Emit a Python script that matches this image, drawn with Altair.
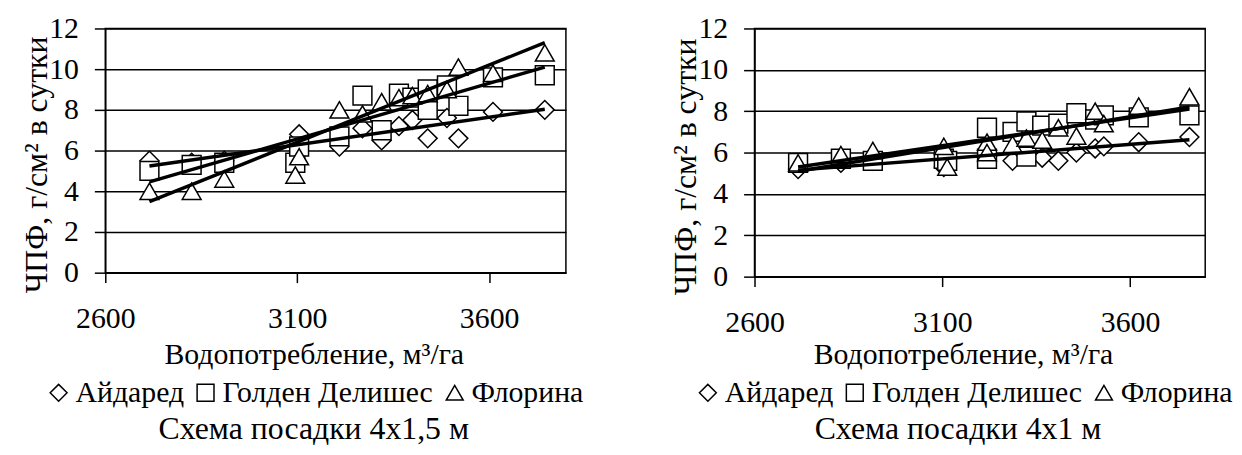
import altair as alt
import pandas as pd

FONT = "Liberation Serif"
VARIETIES = ["Айдаред", "Голден Делишес", "Флорина"]
SHAPES = ["diamond", "square", "triangle-up"]

# ---- Panel 1: Схема посадки 4х1,5 м ----
L_AID_X = [2715, 2825, 2910, 3105, 3210, 3270, 3320, 3365, 3400, 3440, 3490, 3520, 3610, 3745]
L_AID_Y = [5.5, 5.4, 5.5, 6.8, 6.2, 7.1, 6.5, 7.2, 7.5, 6.6, 7.6, 6.6, 7.9, 8.0]
L_GOL_X = [2715, 2825, 2910, 3095, 3105, 3210, 3270, 3320, 3365, 3400, 3440, 3440, 3490, 3520, 3610, 3745]
L_GOL_Y = [5.0, 5.3, 5.4, 5.4, 6.2, 6.7, 8.7, 7.0, 8.8, 8.6, 9.0, 8.0, 9.2, 8.2, 9.6, 9.7]
L_FLO_X = [2715, 2825, 2910, 3095, 3105, 3210, 3270, 3320, 3365, 3400, 3440, 3490, 3520, 3610, 3745]
L_FLO_Y = [4.0, 4.0, 4.6, 4.8, 5.7, 8.0, 7.8, 8.4, 8.6, 8.7, 8.8, 9.0, 10.1, 9.8, 10.8]
L_TREND_X = [2715, 3745]
L_TREND_AID = [5.24, 8.03]
L_TREND_GOL = [4.46, 10.1]
L_TREND_FLO = [3.49, 11.3]

# ---- Panel 2: Схема посадки 4х1 м ----
R_AID_X = [2716, 2830, 2915, 3104, 3219, 3287, 3366, 3409, 3457, 3507, 3530, 3623, 3758]
R_AID_Y = [5.2, 5.5, 5.6, 5.3, 5.8, 5.6, 5.75, 5.6, 6.0, 6.2, 6.3, 6.5, 6.75]
R_GOL_X = [2716, 2830, 2915, 3104, 3113, 3219, 3219, 3287, 3324, 3324, 3366, 3409, 3457, 3507, 3530, 3623, 3758]
R_GOL_Y = [5.5, 5.7, 5.6, 5.7, 5.6, 7.2, 5.7, 7.0, 7.5, 5.8, 7.3, 7.4, 7.9, 7.6, 7.8, 7.7, 7.8]
R_FLO_X = [2716, 2830, 2915, 3104, 3113, 3219, 3219, 3287, 3324, 3366, 3409, 3457, 3507, 3530, 3623, 3758]
R_FLO_Y = [5.5, 5.9, 6.1, 6.3, 5.3, 6.5, 6.0, 6.4, 6.7, 6.6, 7.2, 6.8, 8.0, 7.4, 8.25, 8.7]
R_TREND_X = [2716, 3758]
R_TREND_AID = [5.15, 6.62]
R_TREND_GOL = [5.3, 8.1]
R_TREND_FLO = [5.1, 8.2]

X_TICKS = [2600, 3100, 3600]
Y_TICKS = [0, 2, 4, 6, 8, 10, 12]
X_TITLE = "Водопотребление, м³/га"
Y_TITLE = "ЧПФ, г/см² в сутки"


def points_df(series):
    rows = []
    for name, xs, ys in series:
        for x, y in zip(xs, ys):
            rows.append({"x": x, "y": y, "sort": name})
    return pd.DataFrame(rows)


def trend_df(tx, series):
    rows = []
    for name, ys in series:
        for x, y in zip(tx, ys):
            rows.append({"x": x, "y": y, "sort": name})
    return pd.DataFrame(rows)


def panel(pts, trd, width, height, title, xtitle_y, title_offset):
    xenc = alt.X(
        "x:Q",
        scale=alt.Scale(domain=[2600, 3800], nice=False, zero=False),
        axis=alt.Axis(
            values=X_TICKS, format="d", title=X_TITLE, grid=False, tickSize=10,
            labelPadding=36, labelBaseline="middle", labelFlush=False,
            titleX=210, titleY=xtitle_y, titleBaseline="middle", titleColor="black",
        ),
    )
    yenc = alt.Y(
        "y:Q",
        scale=alt.Scale(domain=[0, 12], nice=False, zero=False),
        axis=alt.Axis(
            values=Y_TICKS, format="d", title=Y_TITLE, grid=True, tickSize=11,
            labelPadding=16, labelFlush=False, titleX=-69, titleY=height / 2 + 14,
            titleBaseline="middle", titleFontSize=32, titleColor="black",
        ),
    )
    shape = alt.Shape(
        "sort:N",
        scale=alt.Scale(domain=VARIETIES, range=SHAPES),
        legend=alt.Legend(
            orient="none", legendX=-62, legendY=352,
            direction="horizontal", columns=3, title=None,
            symbolSize=289, symbolStrokeWidth=1.5,
            labelFontSize=30, labelFont=FONT, labelLimit=0,
            labelColor="black", columnPadding=6, labelOffset=2,
        ),
    )
    pts_layer = alt.Chart(pts).mark_point(
        filled=False, fill="white", fillOpacity=1, stroke="black", strokeWidth=1.5,
        size=360,
    ).encode(x=xenc, y=yenc, shape=shape)
    trend_layer = alt.Chart(trd).mark_line(color="black", strokeWidth=3.5).encode(
        x="x:Q", y="y:Q", detail="sort:N"
    )
    return alt.layer(pts_layer, trend_layer).properties(
        width=width, height=height,
        title=alt.TitleParams(
            title, orient="bottom", anchor="middle", frame="group",
            font=FONT, fontSize=32, fontWeight="normal", color="black",
            dx=-22, offset=title_offset,
        ),
    )


left = panel(
    points_df([(VARIETIES[0], L_AID_X, L_AID_Y), (VARIETIES[1], L_GOL_X, L_GOL_Y), (VARIETIES[2], L_FLO_X, L_FLO_Y)]),
    trend_df(L_TREND_X, [(VARIETIES[0], L_TREND_AID), (VARIETIES[1], L_TREND_GOL), (VARIETIES[2], L_TREND_FLO)]),
    464, 246, "Схема посадки 4х1,5 м", 82, 7,
)
right = panel(
    points_df([(VARIETIES[0], R_AID_X, R_AID_Y), (VARIETIES[1], R_GOL_X, R_GOL_Y), (VARIETIES[2], R_FLO_X, R_FLO_Y)]),
    trend_df(R_TREND_X, [(VARIETIES[0], R_TREND_AID), (VARIETIES[1], R_TREND_GOL), (VARIETIES[2], R_TREND_FLO)]),
    454, 250, "Схема посадки 4х1 м", 78, 7,
)

chart = (
    alt.hconcat(left, right, spacing=190, bounds="flush")
    .resolve_scale(shape="independent")
    .resolve_legend(shape="independent")
    .properties(padding={"left": 12, "top": 3, "right": 0, "bottom": 0})
    .configure(background="white")
    .configure_view(stroke="black", strokeWidth=1.5)
    .configure_axis(
        labelFont=FONT, titleFont=FONT, labelFontSize=30, titleFontSize=30,
        labelColor="black", titleColor="black", titleFontWeight="normal",
        domainColor="black", domainWidth=1.5, tickColor="black", tickWidth=1.5,
        gridColor="black", gridWidth=1.5, gridOpacity=1,
    )
)

chart.save("out.html", embed_options={"renderer": "svg", "actions": False})
